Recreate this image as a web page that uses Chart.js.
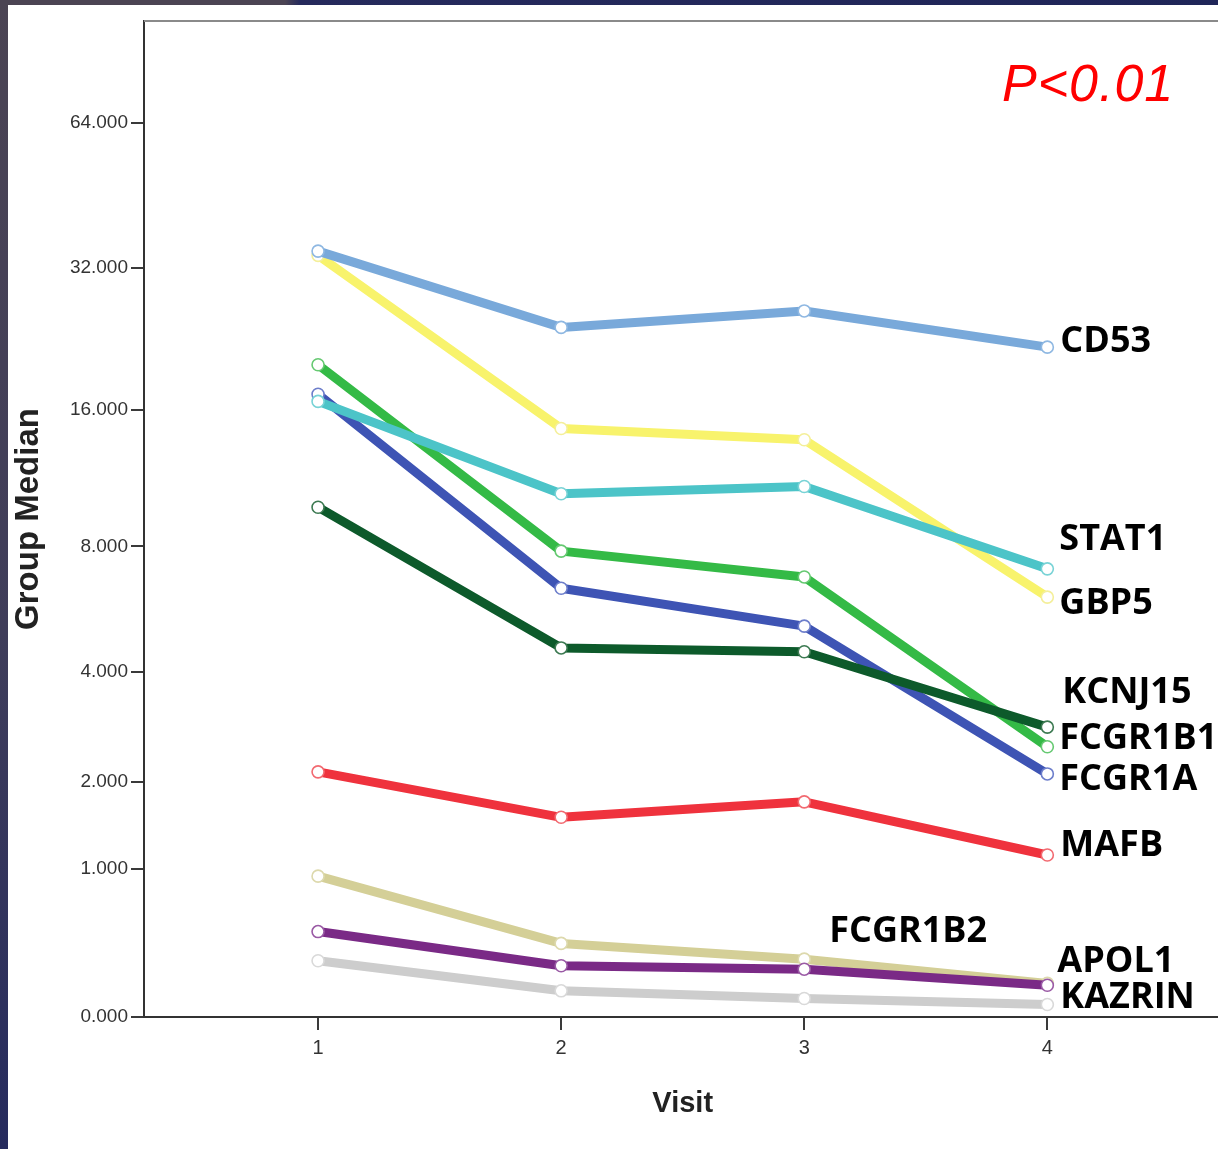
<!DOCTYPE html>
<html>
<head>
<meta charset="utf-8">
<title>Group Median by Visit</title>
<script src="https://cdn.jsdelivr.net/npm/chart.js@4.4.1/dist/chart.umd.min.js"></script>
<style>
  html, body { margin: 0; padding: 0; width: 1218px; height: 1149px; overflow: hidden; background: #ffffff; }
  #wrap { position: absolute; left: 0; top: 0; width: 1229px; height: 1149px; }
  .edge-left { position: absolute; left: 0; top: 0; width: 8px; height: 1149px;
    background: linear-gradient(#4b4453 0%, #3f3d5a 55%, #262b5e 100%); }
  .edge-top { position: absolute; left: 0; top: 0; width: 1218px; height: 5px;
    background: linear-gradient(90deg, #4b4453 0px, #4b4453 285px, #262a5c 300px, #1f2558 100%); }
</style>
</head>
<body>
<div id="wrap"><canvas id="chart" width="1229" height="1149"></canvas></div>
<div class="edge-left"></div>
<div class="edge-top"></div>
<script>
// Visits on the x axis
const visits = [1, 2, 3, 4];

// Group medians per gene, one value per visit
const cd53    = [34.7, 24.0, 26.0, 21.8];
const gbp5    = [34.0, 14.6, 13.8, 6.1];
const stat1   = [16.7, 10.5, 10.9, 7.1];
const fcgr1b1 = [20.0, 7.8, 6.8, 2.53];
const fcgr1a  = [17.3, 6.4, 5.2, 2.11];
const kcnj15  = [9.8, 4.6, 4.5, 2.87];
const mafb    = [2.14, 1.54, 1.73, 1.13];
const fcgr1b2 = [0.93, 0.41, 0.31, 0.17];
const apol1   = [0.49, 0.27, 0.25, 0.16];
const kazrin  = [0.30, 0.13, 0.09, 0.06];

// Tick values of the axes
const yTicks = [0, 1, 2, 4, 8, 16, 32, 64];
const xTicks = [1, 2, 3, 4];

// Gene names and significance note
const geneNames = ['CD53', 'KCNJ15', 'STAT1', 'GBP5', 'FCGR1A', 'FCGR1B1', 'MAFB', 'APOL1', 'FCGR1B2', 'KAZRIN'];
const pNote = 'P<0.01';

const seriesValues = [cd53, kcnj15, stat1, gbp5, fcgr1a, fcgr1b1, mafb, apol1, fcgr1b2, kazrin];
const lineColors = ['#79a9da', '#0d5a2b', '#4cc4c8', '#f8f36c', '#3e54b4', '#34ba46', '#ef323d', '#7a2a86', '#d4cf97', '#cdcdcd'];
const ringColors = ['#8fb8e2', '#3d7a52', '#79d3d6', '#f4ef9a', '#6d7ecb', '#66c972', '#f26a71', '#9a5aa5', '#ddd9ad', '#d9d9d9'];

// Placement of each name next to a point of its line: [point index, dx, dy]
const nameAnchors = {
  CD53: [3, 13, -5], KCNJ15: [3, 15, -34], STAT1: [3, 12, -29], GBP5: [3, 12, 7],
  FCGR1A: [3, 12, 6], FCGR1B1: [3, 12, -8], MAFB: [3, 13, -9], APOL1: [3, 10, -23],
  FCGR1B2: [2, 25, -27], KAZRIN: [3, 13, -7]
};

// Axis on which y is laid out as log2(y + 1)
class Log2PlusOneScale extends Chart.LinearScale {
  static id = 'log2p1';
  static defaults = {};
  determineDataLimits() {
    this.min = this.options.min;
    this.max = this.options.max;
  }
  buildTicks() {
    return yTicks.map(v => ({ value: v }));
  }
  configure() {
    super.configure();
    this._lo = Math.log2(this.min + 1);
    this._hi = Math.log2(this.max + 1);
  }
  getPixelForValue(v) {
    return this.getPixelForDecimal((Math.log2(v + 1) - this._lo) / (this._hi - this._lo));
  }
  getValueForPixel(p) {
    return Math.pow(2, this._lo + this.getDecimalForPixel(p) * (this._hi - this._lo)) - 1;
  }
}
Chart.register(Log2PlusOneScale);

const datasets = seriesValues.map((vals, i) => ({
  label: geneNames[i],
  data: visits.map((v, j) => ({ x: v, y: vals[j] })),
  borderColor: lineColors[i],
  borderWidth: 9,
  borderJoinStyle: 'round',
  borderCapStyle: 'round',
  pointRadius: 6,
  pointBorderWidth: 1.6,
  pointBorderColor: ringColors[i],
  pointBackgroundColor: '#ffffff',
  tension: 0,
  fill: false
}));

const frameAndNotes = {
  id: 'frameAndNotes',
  beforeDatasetsDraw(chart) {
    const { ctx, chartArea } = chart;
    ctx.save();
    ctx.strokeStyle = '#8a8a8a';
    ctx.lineWidth = 2;
    ctx.beginPath();
    ctx.moveTo(chartArea.left, chartArea.top);
    ctx.lineTo(chartArea.right, chartArea.top);
    ctx.lineTo(chartArea.right, chartArea.bottom);
    ctx.stroke();
    ctx.restore();
  },
  afterDatasetsDraw(chart) {
    const { ctx, chartArea } = chart;
    ctx.save();
    ctx.fillStyle = '#000000';
    ctx.font = 'bold 36px "Open Sans", sans-serif';
    ctx.textBaseline = 'middle';
    ctx.textAlign = 'left';
    geneNames.forEach((name, i) => {
      const [idx, dx, dy] = nameAnchors[name];
      const pt = chart.getDatasetMeta(i).data[idx];
      ctx.fillText(name, pt.x + dx, pt.y + dy);
    });
    ctx.fillStyle = '#ff0000';
    ctx.font = 'italic 52px "Liberation Sans", Arial, sans-serif';
    ctx.letterSpacing = '1px';
    ctx.textBaseline = 'alphabetic';
    ctx.fillText(pNote, chartArea.left + 858, chartArea.top + 80);
    ctx.restore();
  }
};

new Chart(document.getElementById('chart'), {
  type: 'line',
  data: { datasets },
  options: {
    responsive: false,
    animation: false,
    devicePixelRatio: 1,
    layout: { padding: { top: 21, right: 5, left: 0, bottom: 0 } },
    plugins: { legend: { display: false }, tooltip: { enabled: false } },
    scales: {
      x: {
        type: 'linear',
        min: 0.284,
        max: 4.716,
        afterBuildTicks(scale) { scale.ticks = xTicks.map(v => ({ value: v })); },
        afterFit(scale) { scale.height = 132; },
        grid: { drawOnChartArea: false, drawTicks: true, tickLength: 13, color: '#3a3a3a', lineWidth: 2 },
        border: { display: true, color: '#333333', width: 2 },
        ticks: {
          font: { family: '"Liberation Sans", Arial, sans-serif', size: 20 },
          color: '#333333',
          padding: 6,
          maxRotation: 0,
          callback: v => String(v)
        },
        title: {
          display: true,
          text: 'Visit',
          font: { family: '"Liberation Sans", Arial, sans-serif', size: 29, weight: 'bold' },
          color: '#222222',
          padding: { top: 0, bottom: 28 }
        }
      },
      y: {
        type: 'log2p1',
        min: 0,
        max: 103.5,
        afterFit(scale) { scale.width = 144; },
        grid: { drawOnChartArea: false, drawTicks: true, tickLength: 13, color: '#3a3a3a', lineWidth: 2 },
        border: { display: true, color: '#333333', width: 2 },
        ticks: {
          font: { family: '"Liberation Sans", Arial, sans-serif', size: 19 },
          color: '#333333',
          padding: 3,
          callback: v => Number(v).toFixed(3)
        },
        title: {
          display: true,
          text: 'Group Median',
          font: { family: '"Liberation Sans", Arial, sans-serif', size: 33, weight: 'bold' },
          color: '#222222',
          padding: { top: 9, bottom: 0 }
        }
      }
    }
  },
  plugins: [frameAndNotes]
});
</script>
</body>
</html>
